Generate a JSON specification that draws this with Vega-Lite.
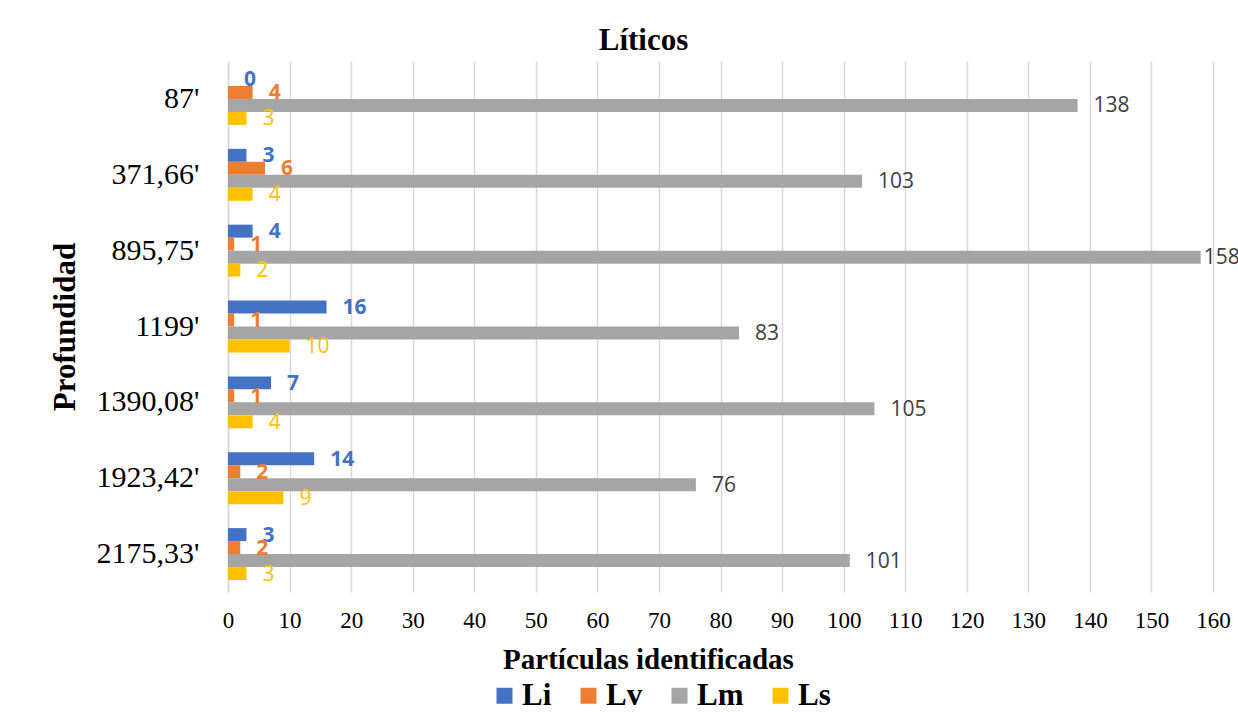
{
  "$schema": "https://vega.github.io/schema/vega-lite/v6.json",
  "autosize": {"type": "none"},
  "padding": {"left": 228, "top": 61, "right": 25, "bottom": 127},
  "width": 985,
  "height": 531,
  "background": "white",
  "title": {
    "text": "Líticos",
    "font": "Liberation Serif",
    "fontSize": 31,
    "fontWeight": "bold",
    "color": "black",
    "anchor": "middle",
    "frame": "group",
    "baseline": "alphabetic",
    "offset": -20,
    "dx": -77
  },
  "data": {
    "values": [
      {"prof": "87'", "serie": "Li", "valor": 0},
      {"prof": "87'", "serie": "Lv", "valor": 4},
      {"prof": "87'", "serie": "Lm", "valor": 138},
      {"prof": "87'", "serie": "Ls", "valor": 3},
      {"prof": "371,66'", "serie": "Li", "valor": 3},
      {"prof": "371,66'", "serie": "Lv", "valor": 6},
      {"prof": "371,66'", "serie": "Lm", "valor": 103},
      {"prof": "371,66'", "serie": "Ls", "valor": 4},
      {"prof": "895,75'", "serie": "Li", "valor": 4},
      {"prof": "895,75'", "serie": "Lv", "valor": 1},
      {"prof": "895,75'", "serie": "Lm", "valor": 158},
      {"prof": "895,75'", "serie": "Ls", "valor": 2},
      {"prof": "1199'", "serie": "Li", "valor": 16},
      {"prof": "1199'", "serie": "Lv", "valor": 1},
      {"prof": "1199'", "serie": "Lm", "valor": 83},
      {"prof": "1199'", "serie": "Ls", "valor": 10},
      {"prof": "1390,08'", "serie": "Li", "valor": 7},
      {"prof": "1390,08'", "serie": "Lv", "valor": 1},
      {"prof": "1390,08'", "serie": "Lm", "valor": 105},
      {"prof": "1390,08'", "serie": "Ls", "valor": 4},
      {"prof": "1923,42'", "serie": "Li", "valor": 14},
      {"prof": "1923,42'", "serie": "Lv", "valor": 2},
      {"prof": "1923,42'", "serie": "Lm", "valor": 76},
      {"prof": "1923,42'", "serie": "Ls", "valor": 9},
      {"prof": "2175,33'", "serie": "Li", "valor": 3},
      {"prof": "2175,33'", "serie": "Lv", "valor": 2},
      {"prof": "2175,33'", "serie": "Lm", "valor": 101},
      {"prof": "2175,33'", "serie": "Ls", "valor": 3}
    ]
  },
  "encoding": {
    "y": {
      "field": "prof",
      "type": "nominal",
      "sort": ["87'", "371,66'", "895,75'", "1199'", "1390,08'", "1923,42'", "2175,33'"],
      "scale": {"paddingInner": 0.315, "paddingOuter": 0.1575},
      "axis": {
        "title": "Profundidad",
        "titleFont": "Liberation Serif",
        "titleFontSize": 31,
        "titleFontWeight": "bold",
        "titleColor": "black",
        "titleAngle": -90,
        "titleX": -163,
        "titleY": 265.5,
        "titleAlign": "center",
        "titleBaseline": "middle",
        "labelFont": "Liberation Serif",
        "labelFontSize": 30,
        "labelColor": "black",
        "labelPadding": 29,
        "labelLimit": 300,
        "ticks": false,
        "tickSize": 0,
        "domain": true,
        "domainColor": "#D9D9D9",
        "domainWidth": 1.5,
        "grid": false
      }
    },
    "yOffset": {
      "field": "serie",
      "type": "nominal",
      "sort": ["Li", "Lv", "Lm", "Ls"],
      "scale": {"paddingInner": 0, "paddingOuter": 0}
    },
    "x": {
      "field": "valor",
      "type": "quantitative",
      "scale": {"domain": [0, 160], "nice": false},
      "axis": {
        "title": "Partículas identificadas",
        "titleFont": "Liberation Serif",
        "titleFontSize": 29,
        "titleFontWeight": "bold",
        "titleColor": "black",
        "titleX": 420,
        "titleY": 76,
        "titleAlign": "center",
        "titleBaseline": "alphabetic",
        "values": [0, 10, 20, 30, 40, 50, 60, 70, 80, 90, 100, 110, 120, 130, 140, 150, 160],
        "labelFont": "Liberation Serif",
        "labelFontSize": 23,
        "labelColor": "black",
        "labelPadding": 17,
        "labelFlush": false,
        "labelOverlap": false,
        "ticks": false,
        "tickSize": 0,
        "domain": false,
        "grid": true,
        "gridColor": "#D9D9D9",
        "gridWidth": 1.5
      }
    }
  },
  "layer": [
    {
      "mark": {"type": "bar"},
      "encoding": {
        "color": {
          "field": "serie",
          "type": "nominal",
          "sort": ["Li", "Lv", "Lm", "Ls"],
          "scale": {"domain": ["Li", "Lv", "Lm", "Ls"], "range": ["#4472C4", "#ED7D31", "#A5A5A5", "#FFC000"]},
          "legend": {
            "title": null,
            "orient": "none",
            "legendX": 261,
            "legendY": 619,
            "direction": "horizontal",
            "columns": 4,
            "columnPadding": 21,
            "padding": 0,
            "symbolType": "square",
            "symbolSize": 256,
            "symbolStrokeWidth": 0,
            "labelOffset": 2,
            "labelFont": "Liberation Serif",
            "labelFontSize": 31,
            "labelFontWeight": "bold",
            "labelColor": "black"
          }
        }
      }
    },
    {
      "transform": [{"filter": "datum.serie === 'Li' || datum.serie === 'Lv'"}],
      "mark": {"type": "text", "align": "left", "baseline": "middle", "dx": 16, "dy": 1, "font": "Open Sans", "fontSize": 21, "fontWeight": "bold"},
      "encoding": {
        "text": {"field": "valor", "type": "quantitative"},
        "color": {"field": "serie", "type": "nominal", "legend": null}
      }
    },
    {
      "transform": [{"filter": "datum.serie === 'Lm' && datum.valor < 150"}],
      "mark": {"type": "text", "align": "left", "baseline": "middle", "dx": 16, "dy": 1, "font": "Open Sans", "fontSize": 21, "color": "#404040"},
      "encoding": {
        "text": {"field": "valor", "type": "quantitative"}
      }
    },
    {
      "transform": [{"filter": "datum.serie === 'Lm' && datum.valor >= 150"}],
      "mark": {"type": "text", "align": "left", "baseline": "middle", "dx": 3, "dy": 1, "font": "Open Sans", "fontSize": 21, "color": "#404040"},
      "encoding": {
        "text": {"field": "valor", "type": "quantitative"}
      }
    },
    {
      "transform": [{"filter": "datum.serie === 'Ls'"}],
      "mark": {"type": "text", "align": "left", "baseline": "middle", "dx": 16, "dy": 1, "font": "Open Sans", "fontSize": 21, "color": "#FFC000"},
      "encoding": {
        "text": {"field": "valor", "type": "quantitative"}
      }
    }
  ],
  "config": {
    "view": {"stroke": null}
  }
}
